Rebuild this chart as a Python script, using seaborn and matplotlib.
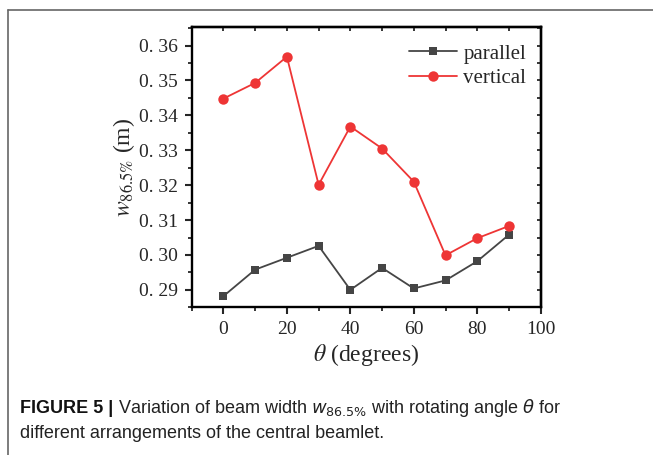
import matplotlib
matplotlib.use("Agg")
import matplotlib.pyplot as plt
import seaborn as sns
import pandas as pd
from matplotlib.ticker import FixedLocator, FixedFormatter, MultipleLocator, NullLocator
from matplotlib.lines import Line2D

theta = [0, 10, 20, 30, 40, 50, 60, 70, 80, 90]
parallel = [0.2882, 0.2958, 0.2992, 0.3026, 0.2900, 0.2963, 0.2904, 0.2927, 0.2982, 0.3058]
vertical = [0.3448, 0.3493, 0.3568, 0.3201, 0.3368, 0.3305, 0.3210, 0.2999, 0.3048, 0.3083]
series_names = ["parallel", "vertical"]
y_ticks = [0.29, 0.30, 0.31, 0.32, 0.33, 0.34, 0.35, 0.36]
y_tick_labels = ["0. 29", "0. 30", "0. 31", "0. 32", "0. 33", "0. 34", "0. 35", "0. 36"]
x_ticks = [0, 20, 40, 60, 80, 100]
x_tick_labels = ["0", "20", "40", "60", "80", "100"]

df = pd.DataFrame({
    "theta": theta * 2,
    "w": parallel + vertical,
    "arr": [series_names[0]] * len(theta) + [series_names[1]] * len(theta),
})

sns.set_style("ticks")
plt.rcParams["font.family"] = ["Liberation Serif", "DejaVu Serif"]
plt.rcParams["mathtext.fontset"] = "stix"

fig = plt.figure(figsize=(6.53, 4.55), dpi=100)
ax = fig.add_axes([0.2936, 0.3246, 0.828 - 0.2936, 0.9413 - 0.3246])

colors = {"parallel": "#454545", "vertical": "#EE3535"}
markers = {"parallel": "s", "vertical": "o"}
sizes = {"parallel": 6, "vertical": 7.5}
for name in series_names:
    sub = df[df["arr"] == name]
    sns.lineplot(data=sub, x="theta", y="w", ax=ax, color=colors[name],
                 marker=markers[name], markersize=sizes[name], markeredgewidth=0,
                 linewidth=1.3, label=name, legend=False)

ax.set_xlim(-10, 100)
ax.set_ylim(0.2850, 0.3654)
ax.xaxis.set_major_locator(FixedLocator(x_ticks))
ax.xaxis.set_major_formatter(FixedFormatter(x_tick_labels))
ax.xaxis.set_minor_locator(MultipleLocator(10))
ax.yaxis.set_major_locator(FixedLocator(y_ticks))
ax.yaxis.set_major_formatter(FixedFormatter(y_tick_labels))
ax.yaxis.set_minor_locator(MultipleLocator(0.005))

for s in ax.spines.values():
    s.set_linewidth(1.7)
    s.set_color("black")

ax.tick_params(axis="both", which="major", direction="out", length=5, width=1.5,
               labelsize=14, pad=5, top=False, right=False)
ax.tick_params(axis="both", which="minor", direction="out", length=3, width=1.3,
               top=False, right=False)

# mirrored minor ticks pointing inward on top and right
secx = ax.secondary_xaxis("top")
secx.xaxis.set_major_locator(NullLocator())
secx.xaxis.set_minor_locator(MultipleLocator(10))
secx.tick_params(which="minor", direction="in", length=3, width=1.3)
secx.spines["top"].set_linewidth(1.7)
secy = ax.secondary_yaxis("right")
secy.yaxis.set_major_locator(NullLocator())
secy.yaxis.set_minor_locator(MultipleLocator(0.005))
secy.tick_params(which="minor", direction="in", length=3, width=1.3)
secy.spines["right"].set_linewidth(1.7)

ax.set_xlabel(r"$\theta$ (degrees)", fontsize=17, labelpad=3)
ax.set_ylabel(r"$w_{86.5\%}$ (m)", fontsize=17, labelpad=1)

handles = [Line2D([], [], color=colors[n], marker=markers[n], markersize=sizes[n],
                  markeredgewidth=0, linewidth=1.3) for n in series_names]
ax.legend(handles, series_names, loc="upper right", frameon=False, fontsize=15,
          handlelength=2.3, handletextpad=0.3, labelspacing=0.25,
          bbox_to_anchor=(1.0, 0.99), borderaxespad=0.3)

# figure frame (top and left lines)
fig.add_artist(Line2D([8 / 653, 1.0], [1 - 10 / 455, 1 - 10 / 455], transform=fig.transFigure,
                      color="#666666", linewidth=1.2))
fig.add_artist(Line2D([8 / 653, 8 / 653], [0, 1 - 10 / 455], transform=fig.transFigure,
                      color="#666666", linewidth=1.2))

cap_family = ["Liberation Sans", "DejaVu Sans"]
bold = fig.text(20 / 653, 1 - 413 / 455, "FIGURE 5 |", fontsize=13, fontweight="bold",
                family=cap_family, color="#111111", va="baseline")
fig.canvas.draw()
bb = bold.get_window_extent()
fig.text((bb.x1 + 5) / 653, 1 - 413 / 455,
         r"Variation of beam width $w_{86.5\%}$ with rotating angle $\theta$ for",
         fontsize=13, family=cap_family, color="#222222", va="baseline",
         math_fontfamily="dejavusans")
fig.text(20 / 653, 1 - 438 / 455, "different arrangements of the central beamlet.",
         fontsize=13, family=cap_family, color="#222222", va="baseline")

fig.savefig("out.png", dpi=100)
